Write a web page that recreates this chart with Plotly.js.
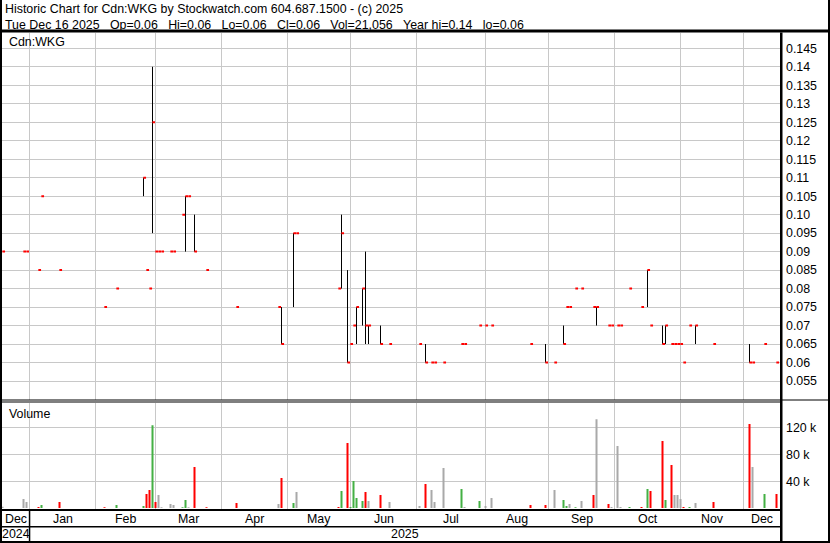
<!DOCTYPE html>
<html><head><meta charset="utf-8">
<script src="https://cdn.plot.ly/plotly-3.0.1.min.js"></script>
<style>html,body{margin:0;padding:0;background:#fff;}#chart{width:830px;height:543px;}</style>
</head><body><div id="chart"></div>
<script>
// ---------- data ----------
const dates = ['2024-12-19','2024-12-30','2024-12-31','2025-01-06','2025-01-07','2025-01-15','2025-02-05','2025-02-11',
'2025-02-24','2025-02-25','2025-02-26','2025-02-27','2025-02-28','2025-03-03','2025-03-04','2025-03-07','2025-03-10',
'2025-03-13','2025-03-14','2025-03-17','2025-03-19','2025-03-25','2025-04-08','2025-04-28','2025-04-29','2025-05-05',
'2025-05-06','2025-05-26','2025-05-27','2025-05-29','2025-05-30','2025-06-02','2025-06-03','2025-06-05','2025-06-06',
'2025-06-09','2025-06-13','2025-06-18','2025-07-02','2025-07-04','2025-07-08','2025-07-09','2025-07-14','2025-07-22',
'2025-07-23','2025-07-30','2025-08-01','2025-08-05','2025-08-22','2025-08-29','2025-09-03','2025-09-08','2025-09-09',
'2025-09-10','2025-09-12','2025-09-16','2025-09-22','2025-09-23','2025-09-29','2025-09-30','2025-10-02','2025-10-03',
'2025-10-08','2025-10-14','2025-10-16','2025-10-17','2025-10-23','2025-10-24','2025-10-28','2025-10-29','2025-10-30',
'2025-10-31','2025-11-03','2025-11-05','2025-11-07','2025-11-17','2025-12-03','2025-12-04','2025-12-10','2025-12-16'];
const high = [0.09,0.09,0.09,0.085,0.105,0.085,0.075,0.08,
0.11,0.085,0.08,0.14,0.09,0.09,0.09,0.09,0.09,
0.10,0.105,0.105,0.10,0.085,0.075,0.075,0.075,0.095,
0.095,0.08,0.10,0.085,0.065,0.07,0.075,0.08,0.09,
0.07,0.07,0.065,0.065,0.065,0.06,0.06,0.06,0.065,
0.065,0.07,0.07,0.07,0.065,0.065,0.06,0.07,0.075,
0.075,0.08,0.08,0.075,0.075,0.07,0.07,0.07,0.07,
0.08,0.075,0.085,0.07,0.07,0.07,0.065,0.065,0.065,
0.065,0.06,0.07,0.07,0.065,0.065,0.06,0.065,0.06];
const low = [0.09,0.09,0.09,0.085,0.105,0.085,0.075,0.08,
0.105,0.085,0.08,0.095,0.09,0.09,0.09,0.09,0.09,
0.10,0.09,0.105,0.09,0.085,0.075,0.075,0.065,0.075,
0.095,0.08,0.08,0.06,0.065,0.07,0.065,0.07,0.065,
0.065,0.065,0.065,0.065,0.06,0.06,0.06,0.06,0.065,
0.065,0.07,0.07,0.07,0.065,0.06,0.06,0.065,0.075,
0.075,0.08,0.08,0.075,0.07,0.07,0.07,0.07,0.07,
0.08,0.075,0.075,0.07,0.065,0.065,0.065,0.065,0.065,
0.065,0.06,0.07,0.065,0.065,0.06,0.06,0.065,0.06];
const close = [0.09,0.09,0.09,0.085,0.105,0.085,0.075,0.08,
0.11,0.085,0.08,0.125,0.09,0.09,0.09,0.09,0.09,
0.10,0.105,0.105,0.09,0.085,0.075,0.075,0.065,0.095,
0.095,0.08,0.095,0.06,0.065,0.07,0.075,0.08,0.07,
0.07,0.065,0.065,0.065,0.06,0.06,0.06,0.06,0.065,
0.065,0.07,0.07,0.07,0.065,0.06,0.06,0.065,0.075,
0.075,0.08,0.08,0.075,0.075,0.07,0.07,0.07,0.07,
0.08,0.075,0.085,0.07,0.065,0.07,0.065,0.065,0.065,
0.065,0.06,0.07,0.07,0.065,0.06,0.06,0.065,0.06];
const volume = [2000,13500,9000,1500,4500,9000,1000,4500,
3000,21000,27000,124000,9000,19500,1000,6000,4500,
1000,12000,1000,61500,1000,7500,6000,45000,7500,
24000,1500,25500,97500,1500,40500,15000,10500,24000,
10500,19500,9000,3000,36000,27000,9000,60000,28500,
1500,10500,3000,15000,4500,4500,27000,12000,3000,
6000,1000,10500,19500,133000,6000,1500,93000,1500,
1500,1500,28500,25500,100500,12000,64500,19500,19500,
13500,1500,1500,7500,9000,126000,61500,21000,21056];

const priceTicks = [0.055,0.06,0.065,0.07,0.075,0.08,0.085,0.09,0.095,0.10,0.105,0.11,0.115,0.12,0.125,0.13,0.135,0.14,0.145];
const priceTickText = ['0.055','0.06','0.065','0.07','0.075','0.08','0.085','0.09','0.095','0.10','0.105','0.11','0.115','0.12','0.125','0.13','0.135','0.14','0.145'];
const volTicks = [40000,80000,120000];
const volTickText = ['40 k','80 k','120 k'];
const monthLabels = ['Dec','Jan','Feb','Mar','Apr','May','Jun','Jul','Aug','Sep','Oct','Nov','Dec'];
const yearLabels = ['2024','2025'];
const titleLine1 = 'Historic Chart for Cdn:WKG by Stockwatch.com 604.687.1500 - (c) 2025';
const GAP = '\u00a0\u00a0\u00a0';
const titleLine2 = ['Tue Dec 16 2025','Op=0.06','Hi=0.06','Lo=0.06','Cl=0.06','Vol=21,056','Year hi=0.14','lo=0.06'].join(GAP);
const symbolLabel = 'Cdn:WKG';
const volumeLabel = 'Volume';

// ---------- trading-day (weekday) scale ----------
const DAY = 86400000;
const ORIGIN = Date.UTC(2025,0,1);
function isWeekday(t){ const g = new Date(t).getUTCDay(); return g > 0 && g < 6; }
function wdMs(t){
  let n = 0;
  if (t >= ORIGIN) { for (let x = ORIGIN; x < t; x += DAY) if (isWeekday(x)) n++; }
  else { for (let x = t; x < ORIGIN; x += DAY) if (isWeekday(x)) n--; }
  return n;
}
function wd(s){ const p = s.split('-').map(Number); return wdMs(Date.UTC(p[0], p[1]-1, p[2])); }

const xs = dates.map(wd);
// month boundaries: last weekday on or before the 1st of each month of 2025
const gridW = [];
for (let m = 0; m < 12; m++) {
  let t = Date.UTC(2025, m, 1);
  while (!isWeekday(t)) t -= DAY;
  gridW.push(wdMs(t));
}

const FW = 830, FH = 543;
const P = v => v / FW;          // pixel -> paper x
const Q = v => 1 - v / FH;      // pixel -> paper y
const X0 = 2, X1 = 780;
const r0 = -9.1667, r1 = r0 + (X1 - X0) / 3;

const monthPos = [];
const bounds = [r0].concat(gridW, [r1]);
for (let i = 0; i < bounds.length - 1; i++) monthPos.push((bounds[i] + bounds[i+1]) / 2);
const yearPos = [(r0 + gridW[0]) / 2, (gridW[0] + r1) / 2];

const RED = '#ff0000', GREEN = '#44b044', GRAY = '#a9a9a9';
const volColors = close.map((c, i) => i === 0 ? GRAY : (c > close[i-1] ? GREEN : (c < close[i-1] ? RED : GRAY)));

const FONT = 'Liberation Sans, Arial, Helvetica, sans-serif';
const FS = 12.4;
const GRID = '#c8c8c8';

const traces = [
  { type:'bar', x: xs, y: volume, xaxis:'x', yaxis:'y2', width:0.67,
    marker:{ color: volColors, line:{ width:0 } }, hoverinfo:'skip' },
  { type:'ohlc', x: xs, open: close, high: high, low: low, close: close, xaxis:'x', yaxis:'y', tickwidth:0,
    increasing:{ line:{ color:'#000', width:1 } }, decreasing:{ line:{ color:'#000', width:1 } }, hoverinfo:'skip' },
  { type:'ohlc', x: xs, open: close, high: close, low: close, close: close, xaxis:'x3', yaxis:'y', tickwidth:0.45,
    increasing:{ line:{ color:RED, width:2 } }, decreasing:{ line:{ color:RED, width:2 } }, hoverinfo:'skip' }
];

function rect(x0, x1, y0, y1){
  return { type:'rect', xref:'paper', yref:'paper', x0:P(x0), x1:P(x1), y0:Q(y1), y1:Q(y0),
           fillcolor:'#000', line:{ width:0 } };
}
const shapes = [
  rect(0, 2, 0, 543), rect(828, 830, 0, 543), rect(0, 830, 541, 543),
  rect(0, 830, 29.5, 32.5), rect(780, 782.5, 32.5, 541),
  rect(0, 830, 399.5, 400.5), rect(0, 782, 401.5, 402.5),
  rect(0, 782, 509, 511), rect(0, 782, 526, 527.5), rect(28.8, 30.3, 510, 541)
];

const txt = (text, x, y, extra) => Object.assign({ text, x, y, xref:'paper', yref:'paper', showarrow:false,
  xanchor:'left', yanchor:'middle', font:{ family:FONT, size:FS, color:'#000' } }, extra || {});
const annotations = [
  txt(titleLine1, P(3), Q(9)),
  txt(titleLine2, P(3), Q(24.5)),
  txt(symbolLabel, P(7), Q(42)),
  txt(volumeLabel, P(7), Q(413.5))
];
monthLabels.forEach((m, i) => annotations.push({ text:m, x:monthPos[i], y:Q(518.5), xref:'x', yref:'paper',
  showarrow:false, xanchor:'center', yanchor:'middle', font:{ family:FONT, size:FS, color:'#000' } }));
yearLabels.forEach((m, i) => annotations.push({ text:m, x:yearPos[i], y:Q(534), xref:'x', yref:'paper',
  showarrow:false, xanchor:'center', yanchor:'middle', font:{ family:FONT, size:FS, color:'#000' } }));

const layout = {
  width: FW, height: FH, margin:{ l:0, r:0, t:0, b:0, pad:0 },
  paper_bgcolor:'#fff', plot_bgcolor:'#fff', showlegend:false, dragmode:false,
  xaxis:{ domain:[P(X0), P(X1)], range:[r0, r1], anchor:'y2', tickmode:'array', tickvals: gridW,
    showticklabels:false, ticks:'', showgrid:true, gridcolor:GRID, gridwidth:1, zeroline:false, showline:false,
    rangeslider:{ visible:false }, fixedrange:true },
  xaxis3:{ domain:[P(X0), P(X1)], range:[r0 - 0.4, r1 - 0.4], overlaying:'x', anchor:'y', visible:false,
    showgrid:false, rangeslider:{ visible:false }, fixedrange:true },
  yaxis:{ domain:[Q(400), Q(32.5)], range:[0.04986, 0.149274], anchor:'x', side:'right', tickmode:'array',
    tickvals: priceTicks, ticktext: priceTickText, ticks:'', ticklabelstandoff:5, showgrid:true, gridcolor:GRID,
    gridwidth:1, zeroline:false, showline:false, tickfont:{ family:FONT, size:FS, color:'#000' }, fixedrange:true },
  yaxis2:{ domain:[Q(509), Q(402.5)], range:[-1500, 158040], anchor:'x', side:'right', tickmode:'array',
    tickvals: volTicks, ticktext: volTickText, ticks:'', ticklabelstandoff:5, showgrid:true, gridcolor:GRID,
    gridwidth:1, zeroline:false, showline:false, tickfont:{ family:FONT, size:FS, color:'#000' }, fixedrange:true },
  shapes, annotations
};

Plotly.newPlot('chart', traces, layout, { displayModeBar:false, staticPlot:true });
</script>
</body></html>
